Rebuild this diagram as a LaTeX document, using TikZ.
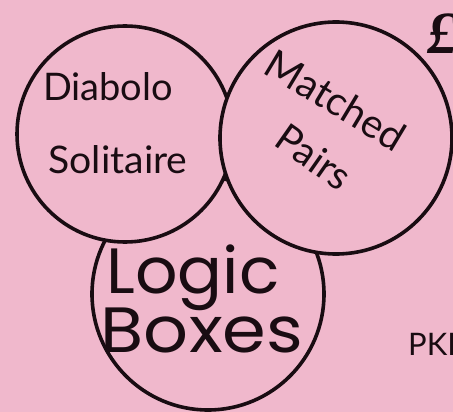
\documentclass[tikz,border=0pt]{standalone}
\usepackage{fontspec}
\setmainfont{Lato}
\newfontfamily\logicfont{Poppins}
\newfontfamily\poundfont{Liberation Serif}
\usepackage{xcolor}
\definecolor{cardpink}{RGB}{240,184,204}
\definecolor{inkcolor}{RGB}{25,12,18}
\tikzset{
    ring/.style={circle, draw=inkcolor, fill=cardpink,
        line width=3.6pt,
        inner sep=0pt},
    gamelabel/.style={inkcolor, inner sep=0pt,
        font=\fontsize{38}{38}\selectfont},
    logiclabel/.style={inkcolor, inner sep=0pt,
        font=\logicfont\fontsize{64}{64}\selectfont}
}

\begin{document}
\begin{tikzpicture}[x=1pt, y=-1pt]

% Card
\fill[cardpink] (0,0) rectangle (453,412);
\useasboundingbox (0,0) rectangle (453,412);

% Circles
\node[ring, minimum size=232pt] (logicring) at (208,294) {};
\node[ring, minimum size=216pt] (diabring) at (125,134) {};
\node[ring, minimum size=232pt] (matchring) at (336,138) {};

% Game names
\node[gamelabel, anchor=base] (diab) at (108,101) {Diabolo};
\node[gamelabel, anchor=base, xscale=1.03] (soli) at (118,173) {Solitaire};
\node[gamelabel, rotate=-31, font=\fontsize{40}{40}\selectfont] (match) at (336,100) {Matched};
\node[gamelabel, rotate=-35, font=\fontsize{39}{39}\selectfont] (pairs) at (314,157) {Pairs};
\node[logiclabel, anchor=base, xscale=1.04] (logic) at (193,293) {Logic};
\node[logiclabel, anchor=base, xscale=1.1] (boxes) at (202,352) {Boxes};

% Edge of the card
\node[gamelabel, anchor=base west, font=\fontsize{31}{31}\selectfont] (pkd) at (408,355) {PKD};
\node[inkcolor, inner sep=0pt, anchor=base west,
    font=\poundfont\bfseries\itshape\fontsize{60}{60}\selectfont] (pound) at (427,54) {£};

\end{tikzpicture}
\end{document}
